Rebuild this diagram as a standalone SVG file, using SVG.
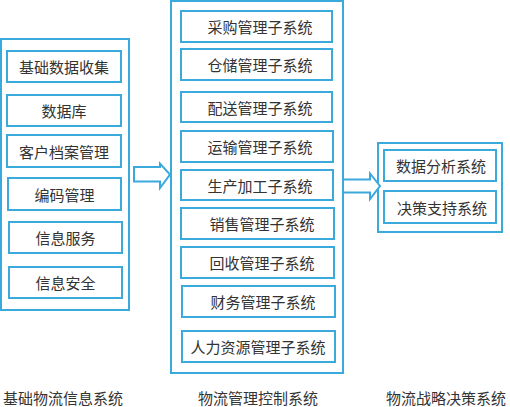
<svg xmlns="http://www.w3.org/2000/svg" width="510" height="407" viewBox="0 0 510 407">
<style>
.box{fill:#fff;stroke:#3aaadc;stroke-width:2}
.t{font-family:"Noto Sans CJK SC","Liberation Sans",sans-serif;font-size:15px;fill:#333;text-anchor:middle;dominant-baseline:central}
.arr{fill:#fff;stroke:#3aaadc;stroke-width:2;stroke-linejoin:miter}
</style>
<rect width="510" height="407" fill="#fff"/>
<g id="group-basic">
<rect class="box" x="1" y="39" width="128" height="271"/>
<g id="n-jcsjsj"><rect class="box" x="7" y="51" width="114" height="31"/><text class="t" x="64" y="66.5">基础数据收集</text></g>
<g id="n-sjk"><rect class="box" x="7" y="95" width="114" height="31"/><text class="t" x="64" y="110.5">数据库</text></g>
<g id="n-khda"><rect class="box" x="7" y="135" width="114" height="32"/><text class="t" x="64" y="151">客户档案管理</text></g>
<g id="n-bmgl"><rect class="box" x="8" y="178" width="113" height="32"/><text class="t" x="64.5" y="194">编码管理</text></g>
<g id="n-xxfw"><rect class="box" x="9" y="222" width="113" height="31"/><text class="t" x="65.5" y="237.5">信息服务</text></g>
<g id="n-xxaq"><rect class="box" x="9" y="267" width="113" height="31"/><text class="t" x="65.5" y="282.5">信息安全</text></g>
<text class="t" x="63" y="397">基础物流信息系统</text>
</g>
<g id="group-mgmt">
<rect class="box" x="171" y="1" width="172" height="372"/>
<g id="n-cg"><rect class="box" x="181" y="11" width="151" height="31"/><text class="t" x="260" y="26.5">采购管理子系统</text></g>
<g id="n-cc"><rect class="box" x="181" y="49" width="151" height="31"/><text class="t" x="260" y="64.5">仓储管理子系统</text></g>
<g id="n-ps"><rect class="box" x="181" y="92" width="151" height="30"/><text class="t" x="260" y="107">配送管理子系统</text></g>
<g id="n-ys"><rect class="box" x="181" y="131" width="152" height="31"/><text class="t" x="260" y="146.5">运输管理子系统</text></g>
<g id="n-scjg"><rect class="box" x="181" y="170" width="152" height="30"/><text class="t" x="260" y="185">生产加工子系统</text></g>
<g id="n-xs"><rect class="box" x="181" y="208" width="153" height="31"/><text class="t" x="262" y="223.5">销售管理子系统</text></g>
<g id="n-hs"><rect class="box" x="181" y="247" width="153" height="31"/><text class="t" x="262" y="262.5">回收管理子系统</text></g>
<g id="n-cw"><rect class="box" x="182" y="286" width="153" height="31"/><text class="t" x="263" y="301.5">财务管理子系统</text></g>
<g id="n-rlzy"><rect class="box" x="182" y="331" width="153" height="31"/><text class="t" x="258" y="346.5">人力资源管理子系统</text></g>
<text class="t" x="258" y="397">物流管理控制系统</text>
</g>
<g id="group-decision">
<rect class="box" x="378" y="143" width="124" height="89"/>
<g id="n-sjfx"><rect class="box" x="384" y="150" width="112" height="31"/><text class="t" x="441" y="165.5">数据分析系统</text></g>
<g id="n-jczc"><rect class="box" x="384" y="191" width="112" height="32"/><text class="t" x="442" y="207">决策支持系统</text></g>
<text class="t" x="446" y="397">物流战略决策系统</text>
</g>
<g id="connectors">
<path class="arr" d="M134 167 H160 V163.5 L170 174.5 L160 188 V181.5 H134 Z"/>
<path class="arr" d="M343 179.5 H370 V173.5 L380 186 L370 199 V192.5 H343 Z"/>
</g>
</svg>
